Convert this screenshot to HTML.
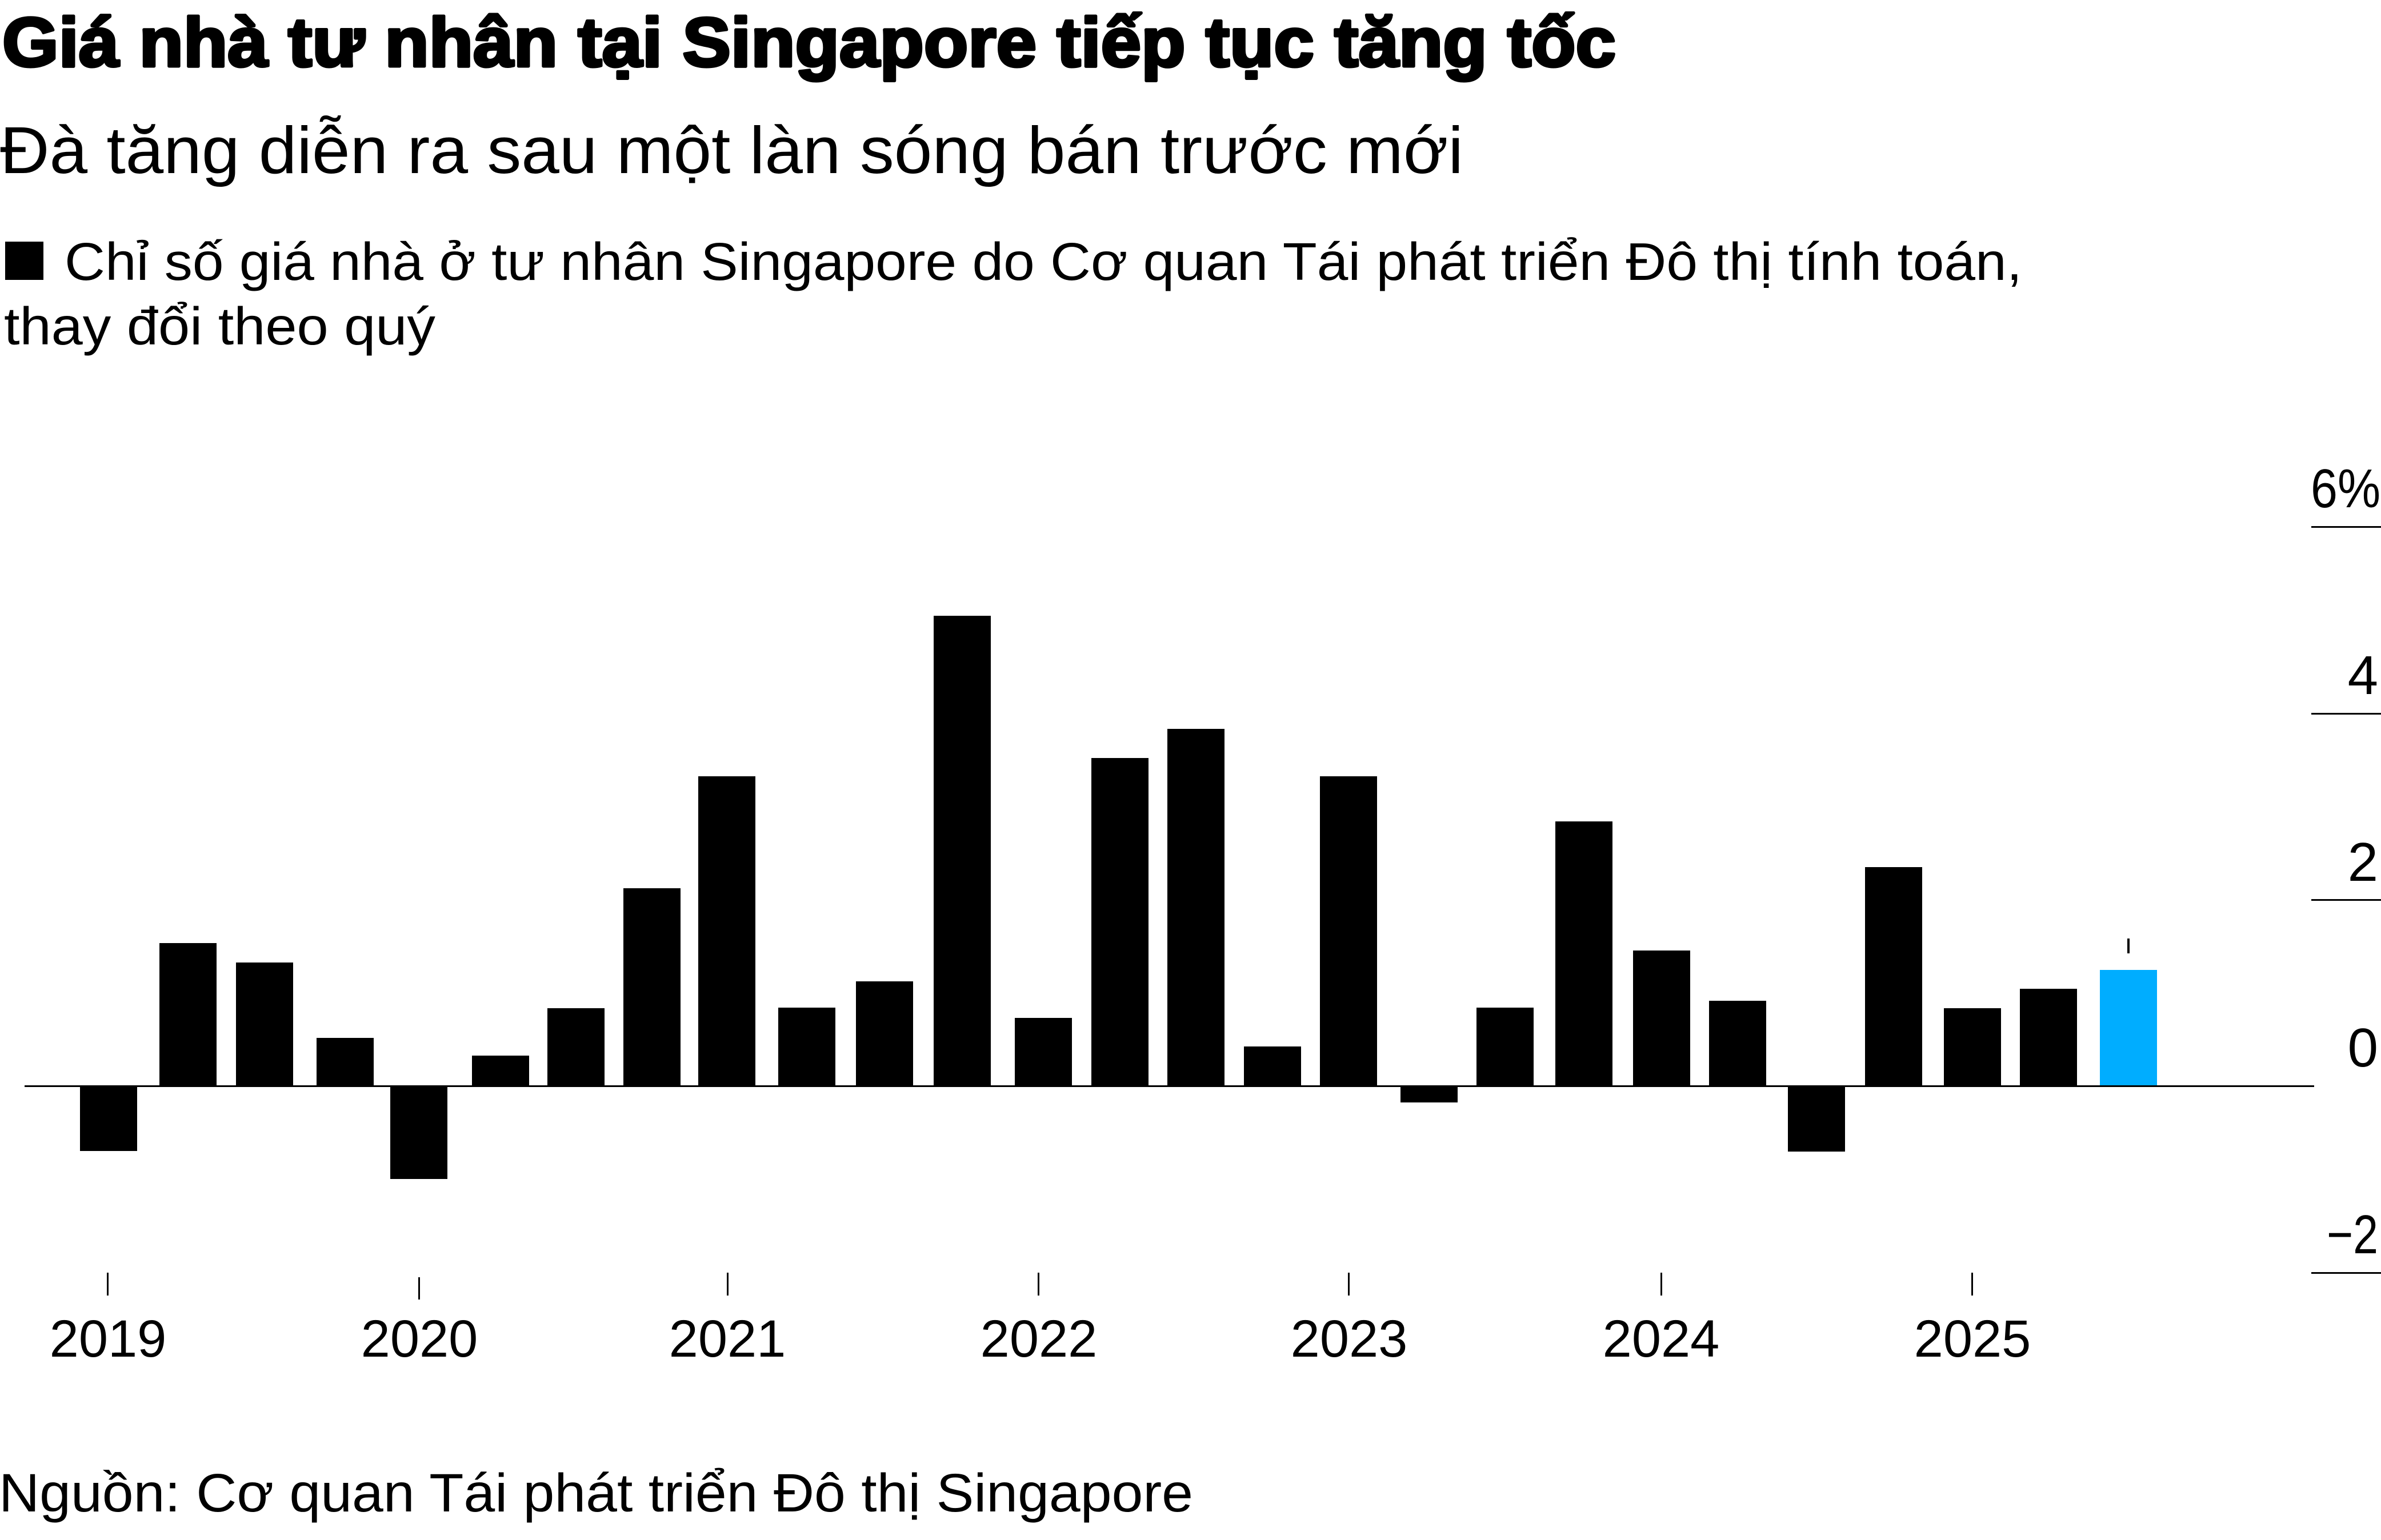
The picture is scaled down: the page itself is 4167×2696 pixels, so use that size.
<!DOCTYPE html>
<html>
<head>
<meta charset="utf-8">
<style>
html,body{margin:0;padding:0;background:#fff;width:4167px;height:2696px;overflow:hidden}
svg{display:block}
</style>
</head>
<body>
<svg width="4167" height="2696" viewBox="0 0 4167 2696" xmlns="http://www.w3.org/2000/svg" font-family="'Liberation Sans', sans-serif" fill="#000">
  <rect x="0" y="0" width="4167" height="2696" fill="#fff"/>

  <!-- Title -->
  <text x="4" y="116" font-size="122" font-weight="bold" stroke="#000" stroke-width="5" stroke-linejoin="round" textLength="2824" lengthAdjust="spacingAndGlyphs">Giá nhà tư nhân tại Singapore tiếp tục tăng tốc</text>
  <!-- Subtitle -->
  <text x="0" y="303" font-size="116" textLength="2561" lengthAdjust="spacingAndGlyphs">Đà tăng diễn ra sau một làn sóng bán trước mới</text>

  <!-- Legend -->
  <rect x="9" y="423" width="67" height="67" fill="#000"/>
  <text x="113" y="490" font-size="93" textLength="3426" lengthAdjust="spacingAndGlyphs">Chỉ số giá nhà ở tư nhân Singapore do Cơ quan Tái phát triển Đô thị tính toán,</text>
  <text x="7" y="603" font-size="93" textLength="755" lengthAdjust="spacingAndGlyphs">thay đổi theo quý</text>

  <!-- Y gridlines -->
  <rect x="4045" y="921" width="122" height="3"/>
  <rect x="4045" y="1248" width="122" height="3"/>
  <rect x="4045" y="1574" width="122" height="3"/>
  <rect x="4045" y="2227" width="122" height="3"/>

  <!-- Y labels -->
  <text x="4166" y="888" font-size="96" text-anchor="end" textLength="122" lengthAdjust="spacingAndGlyphs">6%</text>
  <text x="4162" y="1215" font-size="96" text-anchor="end">4</text>
  <text x="4162" y="1542" font-size="96" text-anchor="end">2</text>
  <text x="4162" y="1867" font-size="96" text-anchor="end">0</text>
  <text x="4162" y="2194" font-size="96" text-anchor="end" textLength="90" lengthAdjust="spacingAndGlyphs">−2</text>

  <!-- Bars -->
  <rect x="140" y="1901" width="100" height="114"/>
  <rect x="279" y="1651" width="100" height="251"/>
  <rect x="413" y="1685" width="100" height="217"/>
  <rect x="554" y="1817" width="100" height="85"/>
  <rect x="683" y="1901" width="100" height="163"/>
  <rect x="826" y="1848" width="100" height="54"/>
  <rect x="958" y="1765" width="100" height="137"/>
  <rect x="1091" y="1555" width="100" height="347"/>
  <rect x="1222" y="1359" width="100" height="543"/>
  <rect x="1362" y="1764" width="100" height="138"/>
  <rect x="1498" y="1718" width="100" height="184"/>
  <rect x="1634" y="1078" width="100" height="824"/>
  <rect x="1776" y="1782" width="100" height="120"/>
  <rect x="1910" y="1327" width="100" height="575"/>
  <rect x="2043" y="1276" width="100" height="626"/>
  <rect x="2177" y="1832" width="100" height="70"/>
  <rect x="2310" y="1359" width="100" height="543"/>
  <rect x="2451" y="1901" width="100" height="29"/>
  <rect x="2584" y="1764" width="100" height="138"/>
  <rect x="2722" y="1438" width="100" height="464"/>
  <rect x="2858" y="1664" width="100" height="238"/>
  <rect x="2991" y="1752" width="100" height="150"/>
  <rect x="3129" y="1901" width="100" height="115"/>
  <rect x="3264" y="1518" width="100" height="384"/>
  <rect x="3402" y="1765" width="100" height="137"/>
  <rect x="3535" y="1731" width="100" height="171"/>
  <rect x="3675" y="1698" width="100" height="204" fill="#00ADFF"/>

  <!-- annotation tick -->
  <rect x="3723" y="1643" width="4" height="26"/>

  <!-- Zero line -->
  <rect x="43" y="1900" width="4007" height="3"/>

  <!-- X ticks -->
  <rect x="187" y="2228" width="3" height="40"/>
  <rect x="732" y="2236" width="3" height="39"/>
  <rect x="1272" y="2228" width="3" height="40"/>
  <rect x="1816" y="2228" width="3" height="40"/>
  <rect x="2359" y="2228" width="3" height="40"/>
  <rect x="2906" y="2228" width="3" height="40"/>
  <rect x="3450" y="2228" width="3" height="40"/>

  <!-- X labels -->
  <g font-size="92" text-anchor="middle">
    <text x="189" y="2375">2019</text>
    <text x="734" y="2375">2020</text>
    <text x="1273" y="2375">2021</text>
    <text x="1818" y="2375">2022</text>
    <text x="2361" y="2375">2023</text>
    <text x="2907" y="2375">2024</text>
    <text x="3452" y="2375">2025</text>
  </g>

  <!-- Source -->
  <text x="-2" y="2646" font-size="95" textLength="2090" lengthAdjust="spacingAndGlyphs">Nguồn: Cơ quan Tái phát triển Đô thị Singapore</text>
</svg>
</body>
</html>
